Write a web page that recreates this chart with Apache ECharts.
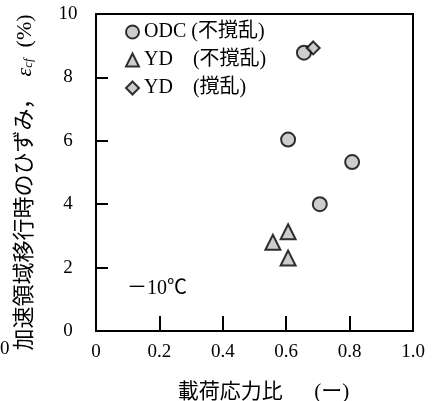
<!DOCTYPE html>
<html><head><meta charset="utf-8">
<script src="https://cdn.jsdelivr.net/npm/echarts@6/dist/echarts.min.js"></script>
<style>html,body{margin:0;padding:0;background:#fff}#c{width:440px;height:401px}</style>
</head><body><div id="c"></div>
<script>
const seriesNames = ['ODC (不撹乱)', 'YD　(不撹乱)', 'YD　(撹乱)'];
const odcUndisturbed = [[0.656, 8.78], [0.606, 6.04], [0.808, 5.33], [0.706, 4.0]];
const ydUndisturbed = [[0.558, 2.8], [0.606, 3.13], [0.606, 2.3]];
const ydDisturbed = [[0.685, 8.93]];
const xTicks = [0, 0.2, 0.4, 0.6, 0.8, 1.0];
const yTicks = [0, 2, 4, 6, 8, 10];

const serif = '"Liberation Serif","Noto Sans CJK JP",serif';
const chart = echarts.init(document.getElementById('c'));
const mk = (name, data, symbol, size) => ({
  name, type: 'scatter', data, symbol, symbolSize: size,
  itemStyle: { color: '#c0c0c0', borderColor: '#000', borderWidth: 2 }
});
chart.setOption({
  animation: false,
  grid: { left: 96, top: 14, width: 317, height: 317, outerBoundsMode: 'none', containLabel: false,
    show: true, borderColor: '#000', borderWidth: 2, backgroundColor: 'transparent' },
  legend: {
    left: 120, top: 17, orient: 'vertical', itemGap: 8, itemWidth: 13, itemHeight: 13,
    data: seriesNames.map((n, i) => ({ name: n, icon: ['circle', 'triangle', 'diamond'][i] })),
    textStyle: { fontFamily: serif, fontSize: 20, color: '#000', lineHeight: 20 },
    itemStyle: { color: '#c0c0c0', borderColor: '#000', borderWidth: 2 }
  },
  xAxis: {
    type: 'value', min: 0, max: 1, interval: 0.2,
    name: '載荷応力比　  (ー)', nameLocation: 'middle', nameGap: 51,
    nameTextStyle: { fontFamily: serif, fontSize: 21, color: '#000', padding: [0, 0, 0, 18] },
    axisLine: { lineStyle: { color: '#000', width: 2 } },
    axisTick: { inside: true, length: 15, lineStyle: { color: '#000', width: 2 } },
    axisLabel: { fontFamily: serif, fontSize: 19, color: '#000', margin: 12,
      formatter: v => (v === 0 ? '0' : v.toFixed(1)) },
    splitLine: { show: false }
  },
  yAxis: {
    type: 'value', min: 0, max: 10, interval: 2,
    name: '{a|加速領域移行時のひずみ，  }{e|ε}{s|cf}{a|  (%)}', nameLocation: 'middle', nameGap: 60, nameRotate: 90,
    nameTextStyle: { padding: [0, 20, 0, 0], rich: {
      a: { fontFamily: serif, fontSize: 22, color: '#000' },
      e: { fontFamily: serif, fontSize: 22, fontStyle: 'italic', color: '#000' },
      s: { fontFamily: serif, fontSize: 13, fontStyle: 'italic', color: '#000', padding: [8, 0, 0, 0] }
    } },
    axisLine: { lineStyle: { color: '#000', width: 2 } },
    axisTick: { inside: true, length: 12, lineStyle: { color: '#000', width: 2 } },
    axisLabel: { fontFamily: serif, fontSize: 19, color: '#000', margin: 28, align: 'center' },
    splitLine: { show: false }
  },
  graphic: [
    { type: 'text', left: 127, top: 279, style: { text: '－10℃', font: '20px ' + serif, fill: '#000' } },
    { type: 'text', left: 0, top: 340, style: { text: '0', font: '19px ' + serif, fill: '#000' } }
  ],
  series: [
    mk(seriesNames[0], odcUndisturbed, 'circle', 14),
    mk(seriesNames[1], ydUndisturbed, 'triangle', 15),
    mk(seriesNames[2], ydDisturbed, 'diamond', 13)
  ]
});
</script></body></html>
